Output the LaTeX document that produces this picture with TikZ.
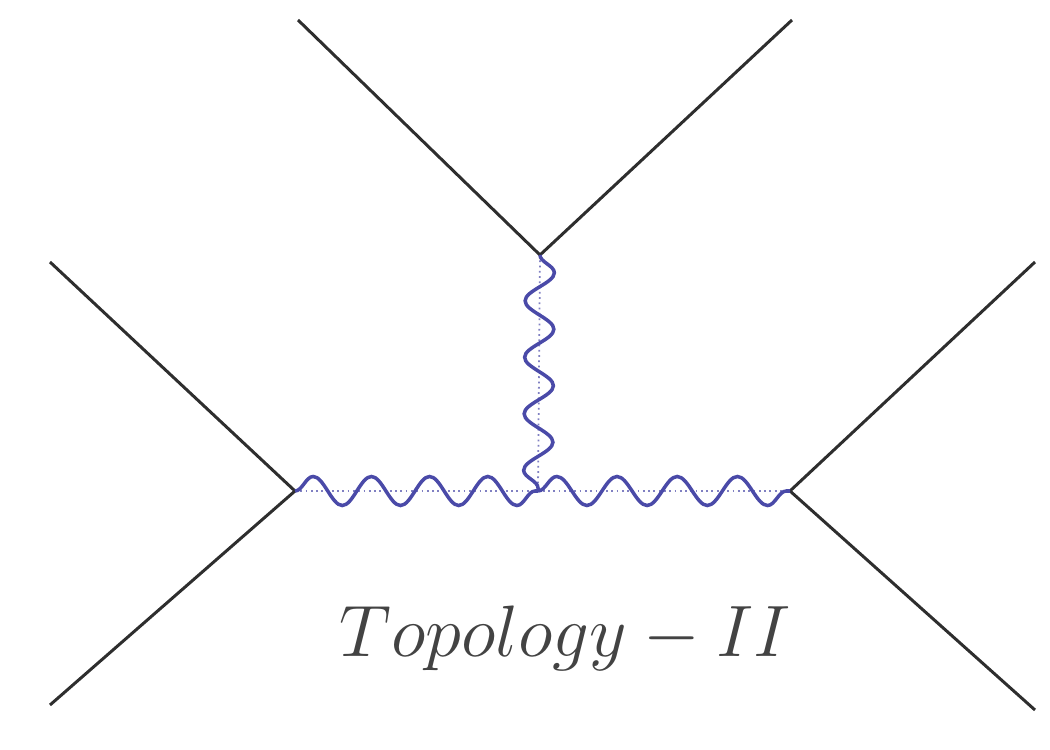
\documentclass[tikz,border=0pt]{standalone}
\usetikzlibrary{decorations.pathmorphing}
\definecolor{ink}{HTML}{2E2E2E}
\definecolor{gauge}{HTML}{4A4AA8}

\tikzset{
  leg/.style={ink,line width=0.85pt},
  boson/.style={gauge,line width=1pt,decorate,
    decoration={snake,segment length=5.82mm,amplitude=1.45mm}},
  guide/.style={gauge!70,densely dotted,line width=0.5pt}
}

\begin{document}
\begin{tikzpicture}
  \useasboundingbox (0,0) rectangle (10.5,7.5);

  % vertices
  \coordinate (vt) at (5.40,4.95);
  \coordinate (vl) at (2.95,2.59);
  \coordinate (vr) at (7.90,2.59);
  \coordinate (vm) at (5.38,2.59);

  % external legs
  \coordinate (tl) at (2.98,7.30);
  \coordinate (tr) at (7.92,7.30);
  \coordinate (lu) at (0.50,4.88);
  \coordinate (ld) at (0.50,0.45);
  \coordinate (ru) at (10.35,4.88);
  \coordinate (rd) at (10.35,0.40);

  \draw[leg] (tl) -- (vt) -- (tr);
  \draw[leg] (lu) -- (vl) -- (ld);
  \draw[leg] (ru) -- (vr) -- (rd);

  % propagators
  \draw[guide] (vl) -- (vr);
  \draw[guide] (vt) -- (vm);
  \draw[boson] (vl) -- (vm);
  \draw[boson,decoration={segment length=6.02mm}] (vm) -- (vr);
  \draw[boson,decoration={segment length=5.65mm}] (vt) -- (vm);

  \node[text=ink!90] (lbl) at (5.65,1.12) {\huge $Topology-II$};
\end{tikzpicture}
\end{document}
